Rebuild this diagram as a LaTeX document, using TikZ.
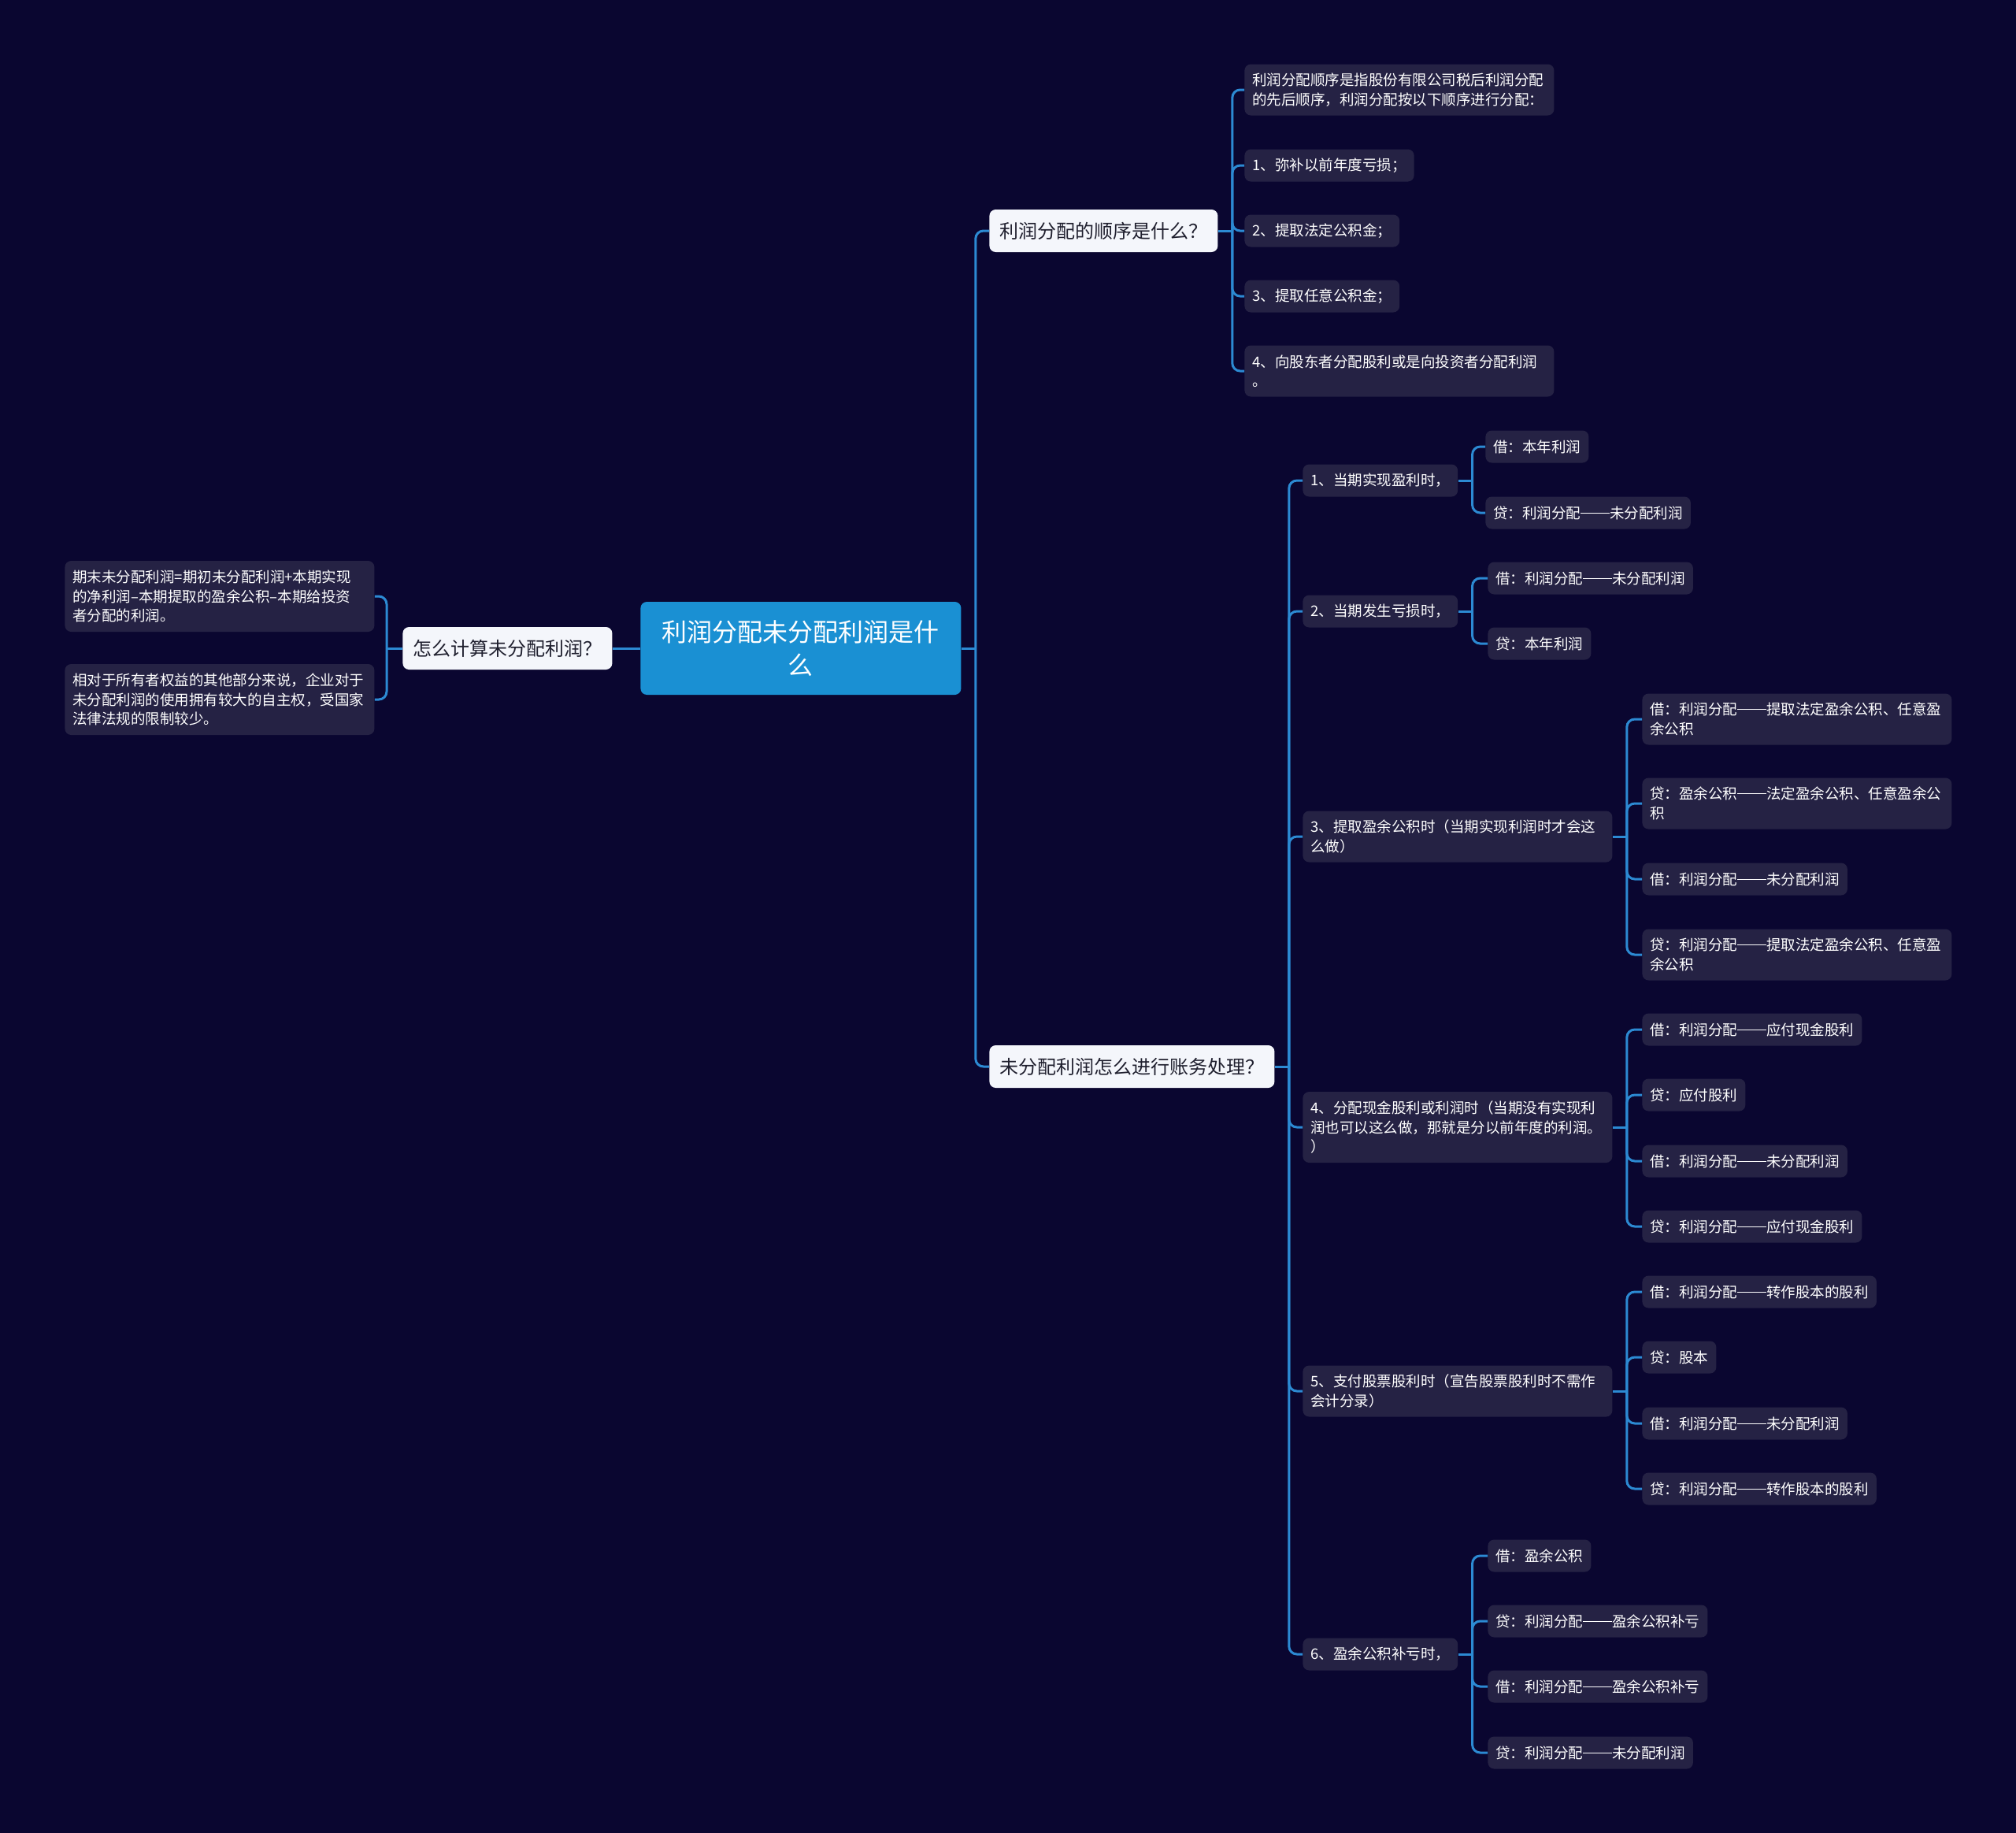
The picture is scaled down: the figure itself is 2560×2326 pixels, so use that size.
\documentclass[tikz,border=0pt]{standalone}
\usepackage{fontspec}
\setmainfont{Noto Sans CJK SC}
\definecolor{bgc}{HTML}{0A0630}
\definecolor{leafc}{HTML}{252244}
\definecolor{linec}{HTML}{2C8AD3}
\definecolor{rootc}{HTML}{1A90D3}
\definecolor{brc}{HTML}{F4F6FB}
\definecolor{brtext}{HTML}{1F1F2E}
\newcommand{\dd}{\rule[0.35em]{2em}{0.05em}}
\tikzset{
  leaf/.style={anchor=west, fill=leafc, text=white, rounded corners=4pt,
    font=\fontsize{9.25pt}{12.25pt}\selectfont, inner xsep=5pt, inner ysep=0pt,
    minimum height=20.5pt, align=left},
  leaftwo/.style={leaf, text width=186.5pt, minimum height=32.5pt},
  leafthree/.style={leaf, text width=186.5pt, minimum height=45pt},
  branch/.style={anchor=west, fill=brc, text=brtext, rounded corners=4pt,
    font=\fontsize{12pt}{15pt}\selectfont, inner xsep=6.5pt, inner ysep=0pt,
    minimum height=27pt},
  rootbox/.style={anchor=west, fill=rootc, text=white, rounded corners=4pt,
    font=\fontsize{16pt}{21pt}\selectfont, inner xsep=13pt, inner ysep=0pt,
    minimum height=59pt, text width=177.5pt, align=center},
  conn/.style={draw=linec, line width=1.5pt},
  elbow/.style={conn, rounded corners=5pt},
}
\begin{document}
\begin{tikzpicture}[x=0.5pt,y=-0.5pt]
\useasboundingbox (0,0) rectangle (2560,2326);
\fill[bgc] (-10,-10) rectangle (2570,2336);

% central and main branches
\node[rootbox] (root) at (813,823) {利润分配未分配利润是什\\么};
\node[branch] (lb) at (511,823) {怎么计算未分配利润？};
\node[branch] (r1) at (1256,293) {利润分配的顺序是什么？};
\node[branch] (r2) at (1256,1354) {未分配利润怎么进行账务处理？};

% left leaves
\node[leafthree] (l1) at (82,757) {期末未分配利润=期初未分配利润+本期实现\\的净利润–本期提取的盈余公积–本期给投资\\者分配的利润。};
\node[leafthree] (l2) at (82,888) {相对于所有者权益的其他部分来说，企业对于\\未分配利润的使用拥有较大的自主权，受国家\\法律法规的限制较少。};

% r1 leaves
\node[leaftwo] (a) at (1580,114) {利润分配顺序是指股份有限公司税后利润分配\\的先后顺序，利润分配按以下顺序进行分配：};
\node[leaf] (b) at (1580,210) {1、弥补以前年度亏损；};
\node[leaf] (c) at (1580,293) {2、提取法定公积金；};
\node[leaf] (d) at (1580,376) {3、提取任意公积金；};
\node[leaftwo] (e) at (1580,471) {4、向股东者分配股利或是向投资者分配利润\\。};

% r2 sub-branches
\node[leaf] (s1) at (1654,610) {1、当期实现盈利时，};
\node[leaf] (s2) at (1654,776) {2、当期发生亏损时，};
\node[leaftwo] (s3) at (1654,1062) {3、提取盈余公积时（当期实现利润时才会这\\么做）};
\node[leafthree] (s4) at (1654,1431) {4、分配现金股利或利润时（当期没有实现利\\润也可以这么做，那就是分以前年度的利润。\\）};
\node[leaftwo] (s5) at (1654,1766) {5、支付股票股利时（宣告股票股利时不需作\\会计分录）};
\node[leaf] (s6) at (1654,2100) {6、盈余公积补亏时，};

% entries
\node[leaf] (s1a) at (1886,567) {借：本年利润};
\node[leaf] (s1b) at (1886,651) {贷：利润分配\dd 未分配利润};
\node[leaf] (s2a) at (1889,734) {借：利润分配\dd 未分配利润};
\node[leaf] (s2b) at (1889,817) {贷：本年利润};
\node[leaftwo] (s3a) at (2085,913) {借：利润分配\dd 提取法定盈余公积、任意盈\\余公积};
\node[leaftwo] (s3b) at (2085,1020) {贷：盈余公积\dd 法定盈余公积、任意盈余公\\积};
\node[leaf] (s3c) at (2085,1116) {借：利润分配\dd 未分配利润};
\node[leaftwo] (s3d) at (2085,1212) {贷：利润分配\dd 提取法定盈余公积、任意盈\\余公积};
\node[leaf] (s4a) at (2085,1307) {借：利润分配\dd 应付现金股利};
\node[leaf] (s4b) at (2085,1390) {贷：应付股利};
\node[leaf] (s4c) at (2085,1474) {借：利润分配\dd 未分配利润};
\node[leaf] (s4d) at (2085,1557) {贷：利润分配\dd 应付现金股利};
\node[leaf] (s5a) at (2085,1640) {借：利润分配\dd 转作股本的股利};
\node[leaf] (s5b) at (2085,1723) {贷：股本};
\node[leaf] (s5c) at (2085,1807) {借：利润分配\dd 未分配利润};
\node[leaf] (s5d) at (2085,1890) {贷：利润分配\dd 转作股本的股利};
\node[leaf] (s6a) at (1889,1975) {借：盈余公积};
\node[leaf] (s6b) at (1889,2058) {贷：利润分配\dd 盈余公积补亏};
\node[leaf] (s6c) at (1889,2141) {借：利润分配\dd 盈余公积补亏};
\node[leaf] (s6d) at (1889,2225) {贷：利润分配\dd 未分配利润};

% connectors: left side
\draw[conn] (root.west) -- (lb.east);
\draw[conn] (lb.west) -- ++(-10pt,0);
\foreach \c in {l1,l2}
  \draw[elbow] ([xshift=-10pt]lb.west) |- (\c.east);

% connectors: right side
\foreach \p/\cs in {root/{r1,r2}, r1/{a,b,c,d,e}, r2/{s1,s2,s3,s4,s5,s6},
    s1/{s1a,s1b}, s2/{s2a,s2b}, s3/{s3a,s3b,s3c,s3d}, s4/{s4a,s4b,s4c,s4d},
    s5/{s5a,s5b,s5c,s5d}, s6/{s6a,s6b,s6c,s6d}} {
  \draw[conn] (\p.east) -- ++(9pt,0);
  \foreach \c in \cs
    \draw[elbow] ([xshift=9pt]\p.east) |- (\c.west);
}
\end{tikzpicture}
\end{document}
